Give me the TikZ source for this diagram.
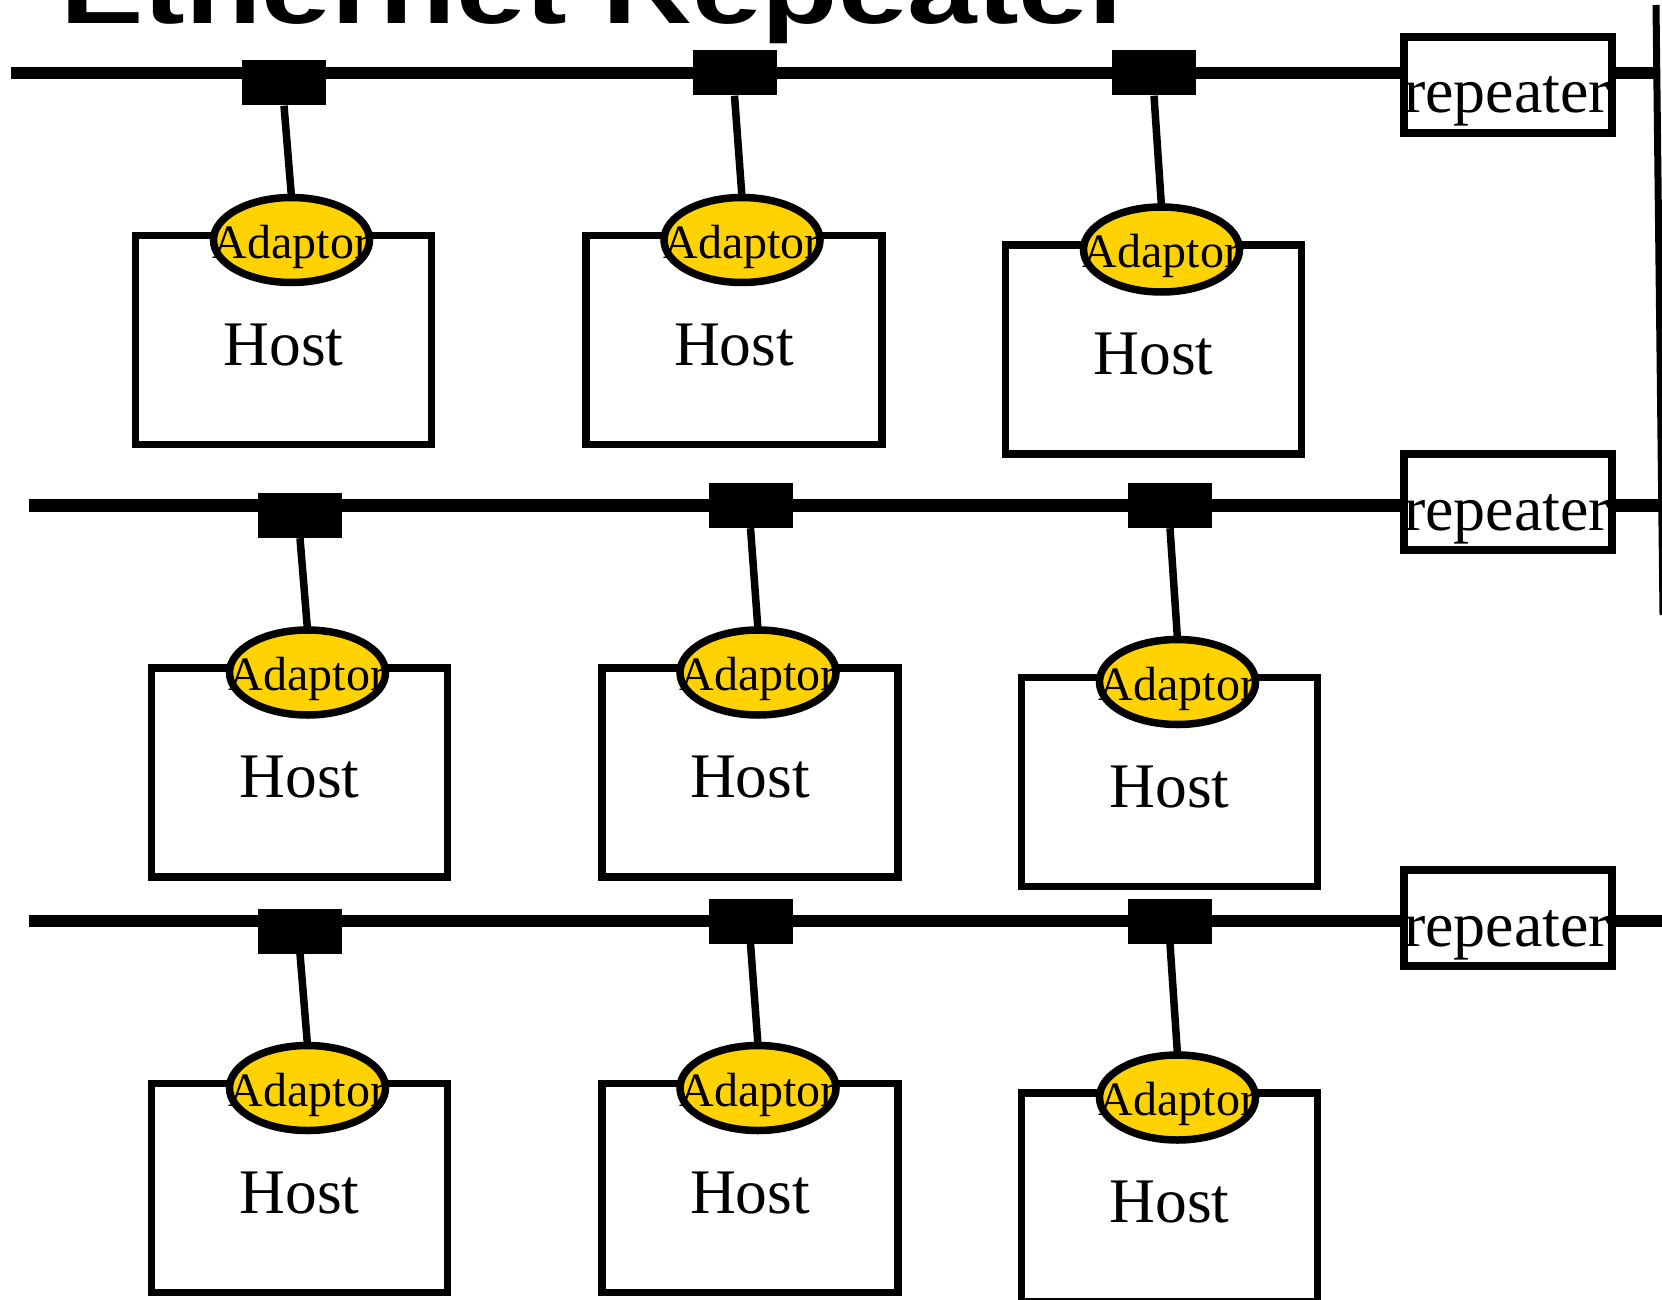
\documentclass[tikz,border=0pt]{standalone}
\usepackage{fontspec}
\setmainfont{Liberation Serif}
\newfontfamily\headfont{Liberation Sans}
\usetikzlibrary{shapes.geometric}
\definecolor{adaptorgold}{RGB}{255,210,0}
\tikzset{
  bus/.style={line width=12.5pt, line cap=butt},
  riser/.style={line width=7.5pt},
  vline/.style={line width=7pt},
  tapbox/.style={rectangle, fill=black, minimum width=84pt, minimum height=45pt, inner sep=0pt},
  hostbox/.style={rectangle, draw=black, fill=white, line width=7.5pt, minimum width=296pt, minimum height=209pt, inner sep=0pt},
  hosttext/.style={inner sep=0pt, font=\fontsize{63.5}{70}\selectfont},
  adfill/.style={ellipse, fill=adaptorgold, minimum width=156pt, minimum height=85pt, inner sep=0pt},
  adtext/.style={inner sep=0pt, font=\fontsize{48}{54}\selectfont},
  adring/.style={draw=black, line width=7.5pt},
  repbox/.style={rectangle, draw=black, fill=white, line width=7.5pt, minimum width=208pt, minimum height=96pt, inner sep=0pt},
  reptext/.style={inner sep=0pt, font=\fontsize{64}{70}\selectfont},
}
\begin{document}
\begin{tikzpicture}[x=1pt, y=-1pt]
  \clip (0,0) rectangle (1662,1300);
  \fill[white] (0,0) rectangle (1662,1300);

  % title, only its lower part falls inside the page
  \node[inner sep=0pt, anchor=base west] (title) at (60,24)
    {\scalebox{1.025}[0.8]{\headfont\bfseries\fontsize{122}{130}\selectfont Ethernet Repeater}};

  % backbone joining the repeaters
  \coordinate (vtop) at (1656,5);
  \coordinate (vbot) at (1663,615);
  \draw[vline] (vtop) -- (vbot);

  % three segments: row / x shift / y shift / left end of the cable / repeater y / right end
  \foreach \r/\dx/\dy/\bx/\ry/\ex in {1/0/0/10.6/85/1656, 2/16/432.5/28.6/502/1700, 3/16/848/28.6/918/1700} {
    \coordinate (busL\r) at (\bx, {73+\dy});
    \coordinate (busR\r) at (\ex, {73+\dy});
    \node[repbox] (rep\r) at (1508,\ry) {};
    \node[reptext, anchor=base] (rept\r) at (1507, {\ry+28}) {repeater};
    \draw[bus] (busL\r) -- (busL\r -| rep\r.west);
    \draw[bus] (busL\r -| rep\r.east) -- (busR\r);

    % hosts: column / x shift / host y shift / tap y shift
    \foreach \c/\cx/\hy/\ty in {1/0/0/10, 2/450.5/0/0, 3/870/9.5/0} {
      \node[tapbox] (tap\r\c) at ({284+\dx+\cx}, {73+\dy+\ty}) {};
      \node[hostbox] (host\r\c) at ({283.5+\dx+\cx}, {340+\dy+\hy}) {};
      \node[hosttext, anchor=base] (hostt\r\c) at ({283.5+\dx+\cx}, {365+\dy+\hy}) {Host};
      \node[adfill] (ad\r\c) at ({291.5+\dx+\cx}, {240+\dy+\hy}) {};
      \draw[riser] (tap\r\c.south) -- (ad\r\c.north);
      \node[adtext, anchor=base] (adt\r\c) at ({291.5+\dx+\cx}, {258+\dy+\hy}) {Adaptor};
      \draw[adring] (ad\r\c.center) ellipse [x radius=78pt, y radius=42.5pt];
    }
  }
\end{tikzpicture}
\end{document}
